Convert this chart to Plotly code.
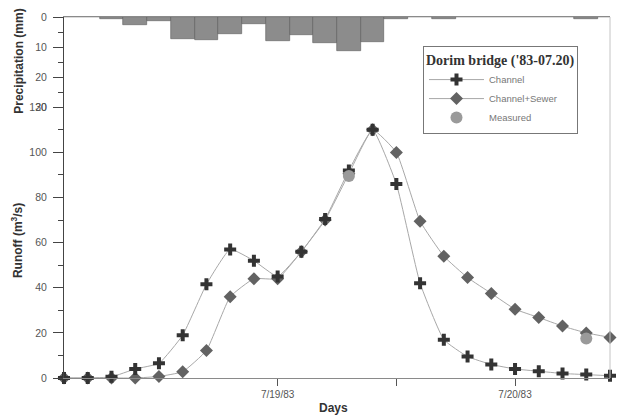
import plotly.graph_objects as go

# Time steps across 18-20 July 1983 (0..23); day marks at steps 9 and 19
steps = list(range(24))
tick_steps = [9, 14, 19]
tick_labels = ["7/19/83", "", "7/20/83"]

# Precipitation per step (mm)
precip = [0, 0, 0.5, 2.7, 1.3, 7.2, 7.5, 5.8, 2.4, 8.0, 6.1, 8.6,
          11.4, 8.3, 0.8, 0, 0.6, 0, 0, 0, 0, 0, 0.5, 0]

# Simulated runoff (m3/s)
channel = [0, 0, 0.5, 4, 6.5, 19, 41.5, 57, 52, 45, 56, 70.5,
           92, 110, 86, 42, 17, 9.5, 6, 4, 3, 2, 1.5, 1]
channel_sewer = [0, 0, 0, 0, 0.7, 2.8, 12.2, 36, 44, 44, 56, 70,
                 90.5, 110, 100, 69.5, 54, 44.5, 37.5, 30.5, 26.8, 23, 20, 18]

# Observed runoff
measured_steps = [12, 22]
measured = [89.5, 17.5]

FONT = "Liberation Sans, Arial, sans-serif"

fig = go.Figure()

fig.add_trace(go.Bar(
    x=steps, y=precip, yaxis="y2", width=1.0,
    marker=dict(color="#8c8c8c", line=dict(color="#5a5a5a", width=0.6)),
    showlegend=False,
))

fig.add_trace(go.Scatter(
    x=steps, y=channel_sewer, name="Channel+Sewer", mode="lines+markers",
    line=dict(color="#a8a8a8", width=1, shape="spline", smoothing=0.4),
    marker=dict(symbol="diamond", size=10, color="#626262"),
    cliponaxis=False, legendrank=2,
))

fig.add_trace(go.Scatter(
    x=steps, y=channel, name="Channel", mode="lines+markers",
    line=dict(color="#a8a8a8", width=1, shape="spline", smoothing=0.4),
    marker=dict(symbol="cross", size=10, color="#333333"),
    cliponaxis=False, legendrank=1,
))

fig.add_trace(go.Scatter(
    x=measured_steps, y=measured, name="Measured", mode="markers",
    marker=dict(symbol="circle", size=12, color="#9a9a9a"),
    cliponaxis=False, legendrank=3,
))

fig.update_layout(
    width=624, height=417,
    margin=dict(l=64, r=14, t=17, b=39),
    paper_bgcolor="white", plot_bgcolor="white",
    font=dict(family=FONT, color="#444"),
    bargap=0,
    xaxis=dict(
        range=[0, 23], showgrid=False, zeroline=False,
        showline=True, linecolor="#8a8a8a", linewidth=1, mirror=True,
        tickmode="array", tickvals=tick_steps, ticktext=tick_labels,
        ticks="outside", ticklen=7, tickcolor="#555", tickwidth=1,
        tickfont=dict(size=10, color="#555"),
    ),
    yaxis=dict(
        range=[0, 160], showgrid=False, zeroline=False,
        showline=True, linecolor="#444", linewidth=1,
        tickmode="array", tickvals=[0, 20, 40, 60, 80, 100, 120],
        ticks="outside", ticklen=10, tickcolor="#444",
        minor=dict(tickmode="array", tickvals=[10, 30, 50, 70, 90, 110],
                   ticks="outside", ticklen=5, tickcolor="#444"),
        tickfont=dict(size=10.5, color="#555"),
        ticklabelstandoff=4,
    ),
    yaxis2=dict(
        range=[120, 0], overlaying="y", side="left", anchor="x",
        showgrid=False, zeroline=False, showline=False,
        tickmode="array", tickvals=[0, 10, 20, 30],
        ticks="outside", ticklen=10, tickcolor="#444",
        minor=dict(tickmode="array", tickvals=[5, 15, 25],
                   ticks="outside", ticklen=5, tickcolor="#444"),
        tickfont=dict(size=10.5, color="#555"),
        ticklabelstandoff=4,
    ),
    legend=dict(
        x=0.6575, y=0.92, xanchor="left", yanchor="top",
        bgcolor="white", bordercolor="#777", borderwidth=1,
        itemwidth=55,
        title=dict(text="<b>Dorim bridge ('83-07.20)</b>",
                   font=dict(family="Liberation Serif, Times New Roman, serif",
                             size=14, color="#333")),
        font=dict(size=9.5, color="#777"),
    ),
    shapes=[dict(type="line", xref="paper", yref="paper",
                 x0=1, x1=1, y0=0, y1=1,
                 line=dict(color="#c4c4c4", width=1))],
    annotations=[
        dict(text="<b>Precipitation (mm)</b>", textangle=-90,
             xref="paper", yref="paper", x=-0.083, y=0.878,
             xanchor="center", yanchor="middle", showarrow=False,
             font=dict(size=12, color="#333")),
        dict(text="<b>Runoff (m<sup>3</sup>/s)</b>", textangle=-90,
             xref="paper", yref="paper", x=-0.086, y=0.3795,
             xanchor="center", yanchor="middle", showarrow=False,
             font=dict(size=12, color="#333")),
        dict(text="<b>Days</b>", xref="paper", yref="paper",
             x=0.4927, y=-0.083, xanchor="center", yanchor="middle",
             showarrow=False, font=dict(size=12, color="#333")),
    ],
)

fig.write_html("out.html")
